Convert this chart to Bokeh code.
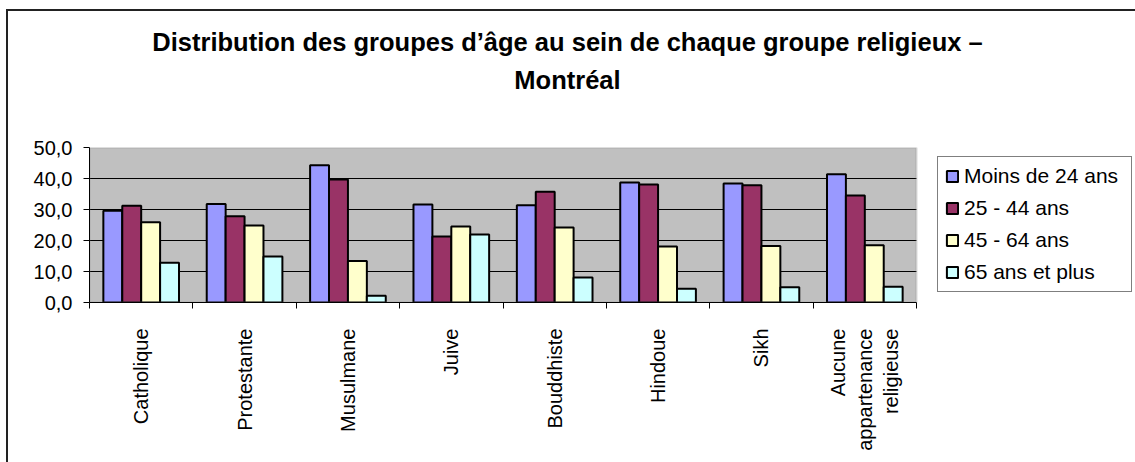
from bokeh.plotting import figure
from bokeh.models import (ColumnDataSource, Legend, LegendItem, FixedTicker, Range1d, Div, BoxAnnotation)
from bokeh.layouts import column
from bokeh.transform import dodge
from bokeh.embed import file_html
from bokeh.resources import INLINE
import numpy as np

title_lines = ["Distribution des groupes d’âge au sein de chaque groupe religieux –", "Montréal"]
categories = ["Catholique", "Protestante", "Musulmane", "Juive", "Bouddhiste",
              "Hindoue", "Sikh", "Aucune\nappartenance\nreligieuse"]
series_names = ["Moins de 24 ans", "25 - 44 ans", "45 - 64 ans", "65 ans et plus"]
moins_24 = [29.6, 31.8, 44.3, 31.6, 31.4, 38.7, 38.4, 41.4]
ans_25_44 = [31.2, 27.8, 39.7, 21.3, 35.7, 38.1, 37.8, 34.5]
ans_45_64 = [25.9, 24.8, 13.4, 24.5, 24.2, 18.1, 18.2, 18.5]
ans_65_plus = [12.8, 14.8, 2.2, 21.9, 8.1, 4.4, 4.9, 5.1]
y_ticks = [0, 10, 20, 30, 40, 50]
y_tick_labels = ["0,0", "10,0", "20,0", "30,0", "40,0", "50,0"]
colors = ["#9999FF", "#993366", "#FFFFCC", "#CCFFFF"]

FONT = "Liberation Sans"
n = len(categories)
y_max = y_ticks[-1]
centers = list(np.arange(n) + 0.5)
boundaries = list(np.arange(n + 1).astype(float))
cols = ["s0", "s1", "s2", "s3"]

source = ColumnDataSource(dict(x=centers, s0=moins_24, s1=ans_25_44, s2=ans_45_64, s3=ans_65_plus))

title_div = Div(
    text="<br>".join(title_lines),
    width=1127, height=100,
    styles={"font-family": "'Liberation Sans', Arial, sans-serif", "font-weight": "bold",
            "font-size": "25.5px", "line-height": "38px", "text-align": "center",
            "padding-top": "12px", "padding-right": "8px", "box-sizing": "border-box",
            "color": "black", "background": "white", "margin": "0"})

# ---- one figure; its frame also holds the legend area on the right ----
FIG_W, BORDER_L = 1127, 81
PLOT_AREA_W = 827                      # pixel width of the grey plotting area
frame_w = FIG_W - BORDER_L
x_end = n * frame_w / PLOT_AREA_W      # extra range beyond the categories = legend area

p = figure(width=FIG_W, height=351, output_backend="svg", toolbar_location=None,
           x_range=Range1d(0, x_end), y_range=Range1d(0, y_max),
           min_border_left=BORDER_L, min_border_right=0, min_border_top=36, min_border_bottom=160)

p.background_fill_color = "white"
p.border_fill_color = "white"
p.outline_line_color = None

# grey plotting area (under the grid)
plot_area = BoxAnnotation(left=0, right=n, bottom=0, top=y_max, fill_color="#C0C0C0", fill_alpha=1,
                          line_color=None, level="image")
p.add_layout(plot_area)

p.xgrid.grid_line_color = None
p.ygrid.grid_line_color = "black"
p.ygrid.grid_line_width = 1
p.ygrid.ticker = FixedTicker(ticks=y_ticks)

# white mask hiding grid lines to the right of the plotting area
mask = BoxAnnotation(left=n, fill_color="white", fill_alpha=1, line_color=None, level="glyph")
p.add_layout(mask)
# grey outline of the plotting area
plot_outline = BoxAnnotation(left=0, right=n, bottom=0, top=y_max, fill_alpha=0,
                             line_color="#808080", line_width=2, level="glyph")
p.add_layout(plot_outline)

w = 0.183
renderers = []
for i, col in enumerate(cols):
    r = p.vbar(x=dodge("x", (i - 1.5) * w, range=p.x_range), top=col, width=w, source=source,
               fill_color=colors[i], line_color="black", line_width=2)
    renderers.append(r)

p.xaxis.bounds = (0, n)
p.xaxis.ticker = FixedTicker(ticks=centers, minor_ticks=boundaries)
p.xaxis.major_label_overrides = {c: lab for c, lab in zip(centers, categories)}
p.xaxis.major_label_orientation = np.pi / 2
p.xaxis.major_tick_line_color = None
p.xaxis.major_tick_out = 0
p.xaxis.major_tick_in = 0
p.xaxis.minor_tick_line_color = "black"
p.xaxis.minor_tick_out = 6
p.xaxis.minor_tick_in = 0
p.xaxis.major_label_standoff = 20
p.xaxis.major_label_text_font = FONT
p.xaxis.major_label_text_font_size = "20px"
p.xaxis.major_label_text_color = "black"
p.xaxis.axis_line_color = "black"
p.xaxis.axis_line_width = 1

p.yaxis.ticker = FixedTicker(ticks=y_ticks, minor_ticks=[])
p.yaxis.major_label_overrides = {t: lab for t, lab in zip(y_ticks, y_tick_labels)}
p.yaxis.major_tick_out = 6
p.yaxis.major_tick_in = 0
p.yaxis.major_tick_line_color = "black"
p.yaxis.major_label_standoff = 11
p.yaxis.major_label_text_font = FONT
p.yaxis.major_label_text_font_size = "20px"
p.yaxis.major_label_text_color = "black"
p.yaxis.axis_line_color = "black"

legend = Legend(items=[LegendItem(label=s, renderers=[r]) for s, r in zip(series_names, renderers)],
                location=(848, 10), orientation="vertical",
                label_text_font=FONT, label_text_font_size="21px", label_text_color="black",
                glyph_width=14, glyph_height=14, label_standoff=5, label_height=24, label_width=160,
                spacing=8, padding=7, margin=0,
                border_line_color="black", border_line_width=1, background_fill_color="white",
                background_fill_alpha=1)
p.add_layout(legend, "center")

layout = column(title_div, p, spacing=0,
                styles={"margin-left": "8px", "margin-top": "11px", "outline": "2px solid #222222"})

open("out.html", "w").write(file_html(layout, INLINE))
